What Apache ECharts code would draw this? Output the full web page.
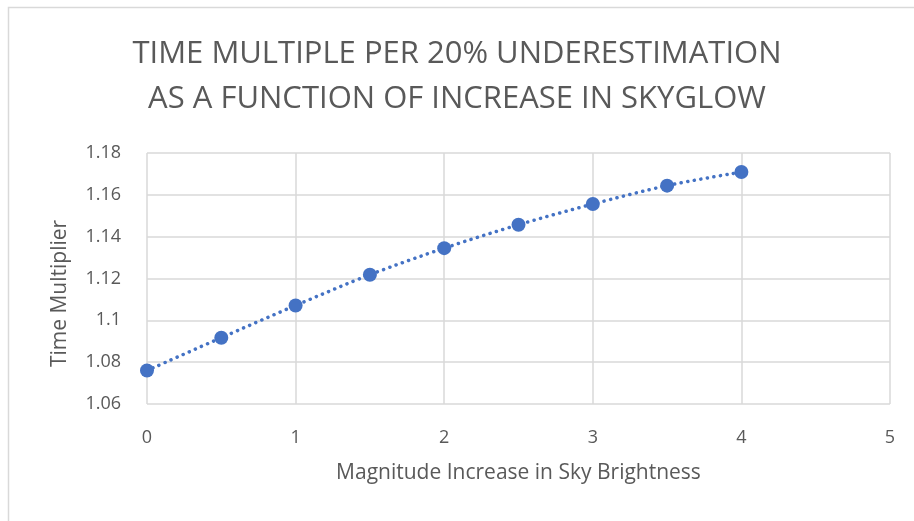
<!DOCTYPE html>
<html>
<head>
<meta charset="utf-8">
<script src="https://cdn.jsdelivr.net/npm/echarts@6/dist/echarts.min.js"></script>
<style>
html,body{margin:0;padding:0;background:#fff;}
#chart{width:914px;height:521px;}
</style>
</head>
<body>
<div id="chart"></div>
<script>
var titleLines = ['TIME MULTIPLE PER 20% UNDERESTIMATION', 'AS A FUNCTION OF INCREASE IN SKYGLOW'];
var xName = 'Magnitude Increase in Sky Brightness';
var yName = 'Time Multiplier';
var magnitudeIncrease = [0, 0.5, 1, 1.5, 2, 2.5, 3, 3.5, 4];
var timeMultiplier = [1.076, 1.0917, 1.1071, 1.1218, 1.1345, 1.1457, 1.1556, 1.1644, 1.1709];

var FONT = "'Open Sans', sans-serif";
var TXT = '#595959';
var chart = echarts.init(document.getElementById('chart'));
var pts = magnitudeIncrease.map(function (x, i) { return [x, timeMultiplier[i]]; });
chart.setOption({
  animation: false,
  backgroundColor: '#fff',
  title: {
    text: titleLines.join('\n'),
    left: 'center',
    top: 27,
    textStyle: { fontFamily: FONT, fontWeight: 'normal', fontSize: 31, color: TXT, lineHeight: 45 }
  },
  graphic: [{
    type: 'rect', shape: { x: 8.5, y: 7.5, width: 1000, height: 1000 },
    style: { fill: 'none', stroke: '#d9d9d9', lineWidth: 1.5 }, silent: true
  }],
  grid: { left: 147, right: 24, top: 153, bottom: 117 },
  xAxis: {
    type: 'value', min: 0, max: 5, interval: 1,
    name: xName, nameLocation: 'middle', nameGap: 59,
    nameTextStyle: { fontFamily: FONT, fontSize: 21, color: TXT },
    axisLine: { show: false }, axisTick: { show: false },
    axisLabel: { fontFamily: FONT, fontSize: 18, color: TXT, margin: 25 },
    splitLine: { show: true, lineStyle: { color: '#d9d9d9', width: 1.5 } }
  },
  yAxis: {
    type: 'value', min: 1.06, max: 1.18, interval: 0.02,
    name: yName, nameLocation: 'middle', nameGap: 76,
    nameTextStyle: { fontFamily: FONT, fontSize: 21, color: TXT, padding: [0, 30, 0, 0] },
    axisLine: { show: false }, axisTick: { show: false },
    axisLabel: { fontFamily: FONT, fontSize: 18, color: TXT, margin: 26,
      formatter: function (v) { return String(parseFloat(v.toFixed(2))); } },
    splitLine: { show: true, lineStyle: { color: '#d9d9d9', width: 1.5 } }
  },
  series: [{
    type: 'line',
    data: pts,
    smooth: 0.3,
    symbol: 'circle',
    symbolSize: 14,
    itemStyle: { color: '#4472C4' },
    lineStyle: { color: '#4472C4', width: 3.5, type: [0.1, 6.5], cap: 'round' },
    z: 3
  }]
});
</script>
</body>
</html>
